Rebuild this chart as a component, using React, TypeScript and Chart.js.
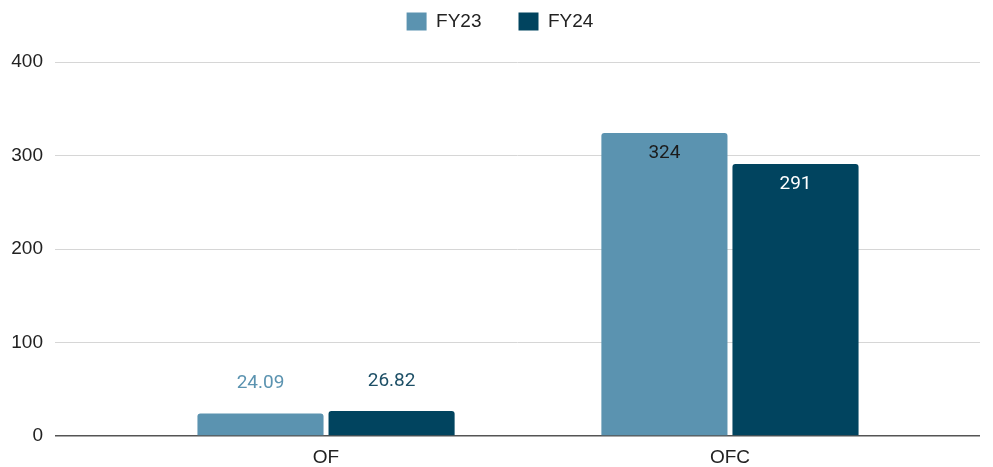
import React, { useEffect, useRef } from "react";
import { Chart, registerables } from "chart.js";

Chart.register(...registerables);

// Categories and series values
const categories = ["OF", "OFC"];
const seriesNames = ["FY23", "FY24"];
const fy23Values = [24.09, 324];
const fy24Values = [26.82, 291];
const yTicks = [0, 100, 200, 300, 400];

const seriesColors = ["#5b93b0", "#01445f"];
const outsideLabelColors = ["#5b93b0", "#1d4f66"];
const insideLabelColors = ["#1b1b1b", "#ffffff"];

const FONT = "'Liberation Sans', Arial, sans-serif";
const LABEL_FONT = "Roboto, 'Liberation Sans', sans-serif";

// Draws each bar's value above short bars, or just inside the top of tall ones
const valueLabels = {
  id: "valueLabels",
  afterDatasetsDraw(chart: any) {
    const ctx = chart.ctx;
    ctx.save();
    ctx.font = `19px ${LABEL_FONT}`;
    ctx.textAlign = "center";
    ctx.textBaseline = "middle";
    chart.data.datasets.forEach((ds: any, i: number) => {
      const meta = chart.getDatasetMeta(i);
      meta.data.forEach((bar: any, j: number) => {
        const { x, y, base } = bar.getProps(["x", "y", "base"], true);
        const inside = base - y > 60;
        ctx.fillStyle = inside ? insideLabelColors[i] : outsideLabelColors[i];
        ctx.fillText(String(ds.data[j].y), x, inside ? y + 20 : y - 30);
      });
    });
    ctx.restore();
  },
};

// Fixes the legend band height and nudges the legend row into place
const legendPlacement = {
  id: "legendPlacement",
  beforeLayout(chart: any) {
    const legend = chart.legend;
    if (legend && !legend._placed) {
      const fit = legend.fit.bind(legend);
      legend.fit = function () {
        fit();
        this.height = 62;
      };
      const draw = legend.draw.bind(legend);
      legend.draw = function () {
        const ctx = chart.ctx;
        ctx.save();
        ctx.translate(10, -25);
        draw();
        ctx.restore();
      };
      legend._placed = true;
    }
  },
};

export default function App() {
  const canvasRef = useRef<HTMLCanvasElement>(null);

  useEffect(() => {
    if (!canvasRef.current) return;
    const series = [fy23Values, fy24Values];
    const chart = new Chart(canvasRef.current, {
      type: "bar",
      data: {
        datasets: series.map((vals, i) => ({
          label: seriesNames[i],
          data: vals.map((v, j) => ({ x: j, y: v })),
          backgroundColor: seriesColors[i],
          borderRadius: { topLeft: 3, topRight: 3, bottomLeft: 0, bottomRight: 0 },
          borderSkipped: "start",
          categoryPercentage: 0.649,
          barPercentage: 0.962,
        })),
      },
      options: {
        animation: false,
        responsive: true,
        maintainAspectRatio: false,
        layout: { padding: { left: 0, right: 13, top: 0, bottom: 0 } },
        plugins: {
          legend: {
            position: "top",
            labels: {
              boxWidth: 20,
              boxHeight: 18,
              padding: 37,
              color: "#222",
              font: { family: FONT, size: 19 },
            },
          },
          tooltip: { enabled: false },
        },
        scales: {
          x: {
            type: "linear",
            min: -0.671,
            max: 1.619,
            offset: false,
            grid: { display: false, drawTicks: false },
            border: { display: false },
            ticks: {
              stepSize: 1,
              includeBounds: false,
              autoSkip: false,
              maxRotation: 0,
              padding: 10,
              color: "#222",
              font: { family: FONT, size: 19 },
              callback: (v: any) => categories[v] ?? "",
            },
            afterFit(scale: any) {
              scale.height = 31;
            },
          },
          y: {
            min: 0,
            max: 400,
            afterBuildTicks(scale: any) {
              scale.ticks = yTicks.map((value) => ({ value }));
            },
            grid: {
              drawTicks: false,
              color: (c: any) => (c.tick && c.tick.value === 0 ? "#555555" : "#d6d6d6"),
              lineWidth: (c: any) => (c.tick && c.tick.value === 0 ? 1.5 : 1),
            },
            border: { display: false },
            ticks: {
              padding: 12,
              color: "#222",
              font: { family: FONT, size: 19 },
            },
            afterFit(scale: any) {
              scale.width = 55;
            },
          },
        },
      },
      plugins: [valueLabels, legendPlacement],
    });
    return () => chart.destroy();
  }, []);

  return (
    <div style={{ position: "fixed", left: 0, top: 0, width: 993, height: 467, background: "#fff" }}>
      <canvas ref={canvasRef} />
    </div>
  );
}
